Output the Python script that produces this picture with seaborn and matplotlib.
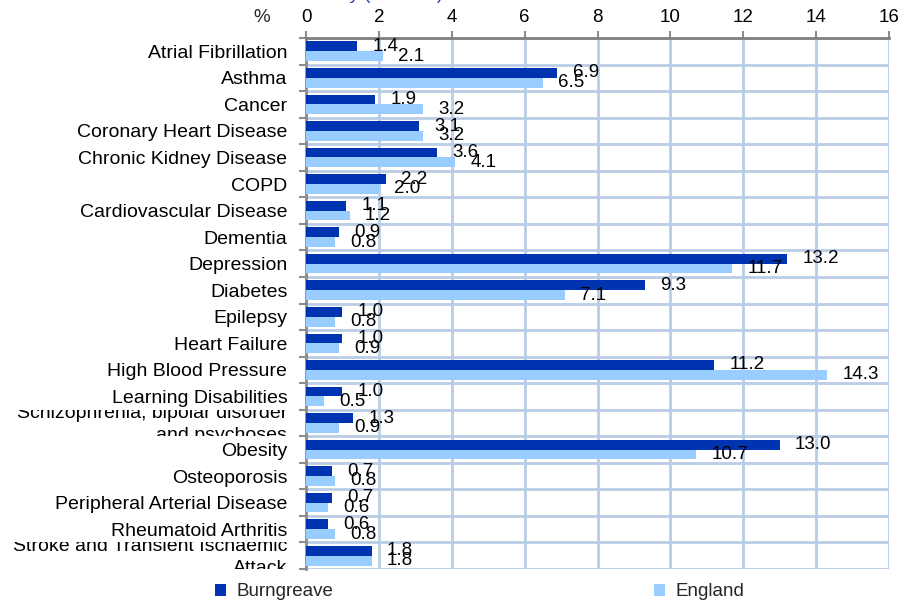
import matplotlib
matplotlib.use("Agg")
import matplotlib.pyplot as plt
import seaborn as sns
import pandas as pd
from matplotlib.transforms import Bbox, ScaledTranslation

conditions = [
    "Atrial Fibrillation",
    "Asthma",
    "Cancer",
    "Coronary Heart Disease",
    "Chronic Kidney Disease",
    "COPD",
    "Cardiovascular Disease",
    "Dementia",
    "Depression",
    "Diabetes",
    "Epilepsy",
    "Heart Failure",
    "High Blood Pressure",
    "Learning Disabilities",
    "Schizophrenia, bipolar disorder\nand psychoses",
    "Obesity",
    "Osteoporosis",
    "Peripheral Arterial Disease",
    "Rheumatoid Arthritis",
    "Stroke and Transient Ischaemic\nAttack",
]
burngreave = [1.4, 6.9, 1.9, 3.1, 3.6, 2.2, 1.1, 0.9, 13.2, 9.3,
              1.0, 1.0, 11.2, 1.0, 1.3, 13.0, 0.7, 0.7, 0.6, 1.8]
england = [2.1, 6.5, 3.2, 3.2, 4.1, 2.0, 1.2, 0.8, 11.7, 7.1,
           0.8, 0.9, 14.3, 0.5, 0.9, 10.7, 0.8, 0.6, 0.8, 1.8]
x_ticks = [0, 2, 4, 6, 8, 10, 12, 14, 16]
series_names = ["Burngreave", "England"]
series_colors = ["#0033B0", "#99CCFF"]

df = pd.DataFrame({
    "condition": conditions * 2,
    "value": burngreave + england,
    "area": [series_names[0]] * len(conditions) + [series_names[1]] * len(conditions),
})

sns.set_theme(style="white")
plt.rcParams["font.family"] = ["Liberation Sans", "DejaVu Sans"]

FS = 13.5
W, H = 915, 604
fig = plt.figure(figsize=(W / 100, H / 100), dpi=100)
ax = fig.add_axes([306 / W, 1 - 569 / H, (889 - 306) / W, (569 - 38) / H])

sns.barplot(data=df, y="condition", x="value", hue="area", order=conditions,
            hue_order=series_names, palette=series_colors, orient="h",
            width=0.74, gap=0, saturation=1, ax=ax, legend=False,
            edgecolor="none", linewidth=0, zorder=3)

for cont in ax.containers:
    ax.bar_label(cont, fmt="%.1f", padding=11, fontsize=FS, color="#000000",
                 zorder=4)

ax.set_xlim(0, 16)
ax.set_ylim(len(conditions) - 0.5, -0.5)
ax.set_xlabel("")
ax.set_ylabel("")

# x axis along the top
ax.xaxis.tick_top()
ax.set_xticks(x_ticks)
ax.set_xticklabels([str(t) for t in x_ticks])
ax.tick_params(axis="x", which="major", direction="out", length=5, width=1.5,
               color="#8C8C8C", pad=3.5, labelsize=FS, labelcolor="#000000",
               top=True, bottom=False)

# y axis: labels at band centres, tick marks at band boundaries
ax.set_yticks(range(len(conditions)))
ax.set_yticklabels(conditions, linespacing=1.4)
ax.set_yticks([i - 0.5 for i in range(len(conditions) + 1)], minor=True)
ax.tick_params(axis="y", which="major", length=0, pad=13.5, labelsize=14,
               labelcolor="#000000")
ax.tick_params(axis="y", which="minor", direction="out", length=5, width=1.5,
               color="#8C8C8C", left=True)

ax.grid(False)
ax.xaxis.grid(True, which="major", color="#BACDE6", linewidth=2, zorder=0)
ax.yaxis.grid(True, which="minor", color="#BACDE6", linewidth=2, zorder=0)
ax.set_axisbelow(True)

for side in ("right", "bottom"):
    ax.spines[side].set_visible(False)
ax.spines["left"].set_color("#8C8C8C")
ax.spines["left"].set_linewidth(2)
ax.spines["top"].set_color("#808080")
ax.spines["top"].set_linewidth(2)

# unit label beside the top scale
fig.text(262 / W, 1 - 18 / H, "%", ha="center", va="center", fontsize=FS)

# title sits mostly above the canvas edge
fig.text(443 / W, 1 + 1 / H, "Disease Rates in Locality (2010/11)",
         ha="right", va="baseline", fontsize=FS, color="#1F3FBF")

# legend along the bottom
handles = [plt.Rectangle((0, 0), 1, 1, facecolor=c, edgecolor="none")
           for c in series_colors]
fig.legend(handles, series_names, loc="center left",
           bbox_to_anchor=(215 / W, 1 - 592 / H), ncol=2, frameon=False,
           fontsize=FS, handlelength=0.6, handleheight=0.6, handletextpad=0.55,
           columnspacing=17.1, borderaxespad=0, borderpad=0)

fig.canvas.draw()

# two-line labels: nudge up slightly and keep them inside their own row
for i, lab in enumerate(ax.get_yticklabels()):
    if "\n" in lab.get_text():
        lab.set_transform(lab.get_transform()
                          + ScaledTranslation(0, 3 / 100, fig.dpi_scale_trans))
        y_top = ax.transData.transform((0, i - 0.5))[1]
        y_bot = ax.transData.transform((0, i + 0.5))[1]
        box = Bbox.from_extents(0, min(y_top, y_bot), 306, max(y_top, y_bot))
        lab.set_clip_box(box)
        lab.set_clip_on(True)

fig.savefig("out.png", dpi=100)
